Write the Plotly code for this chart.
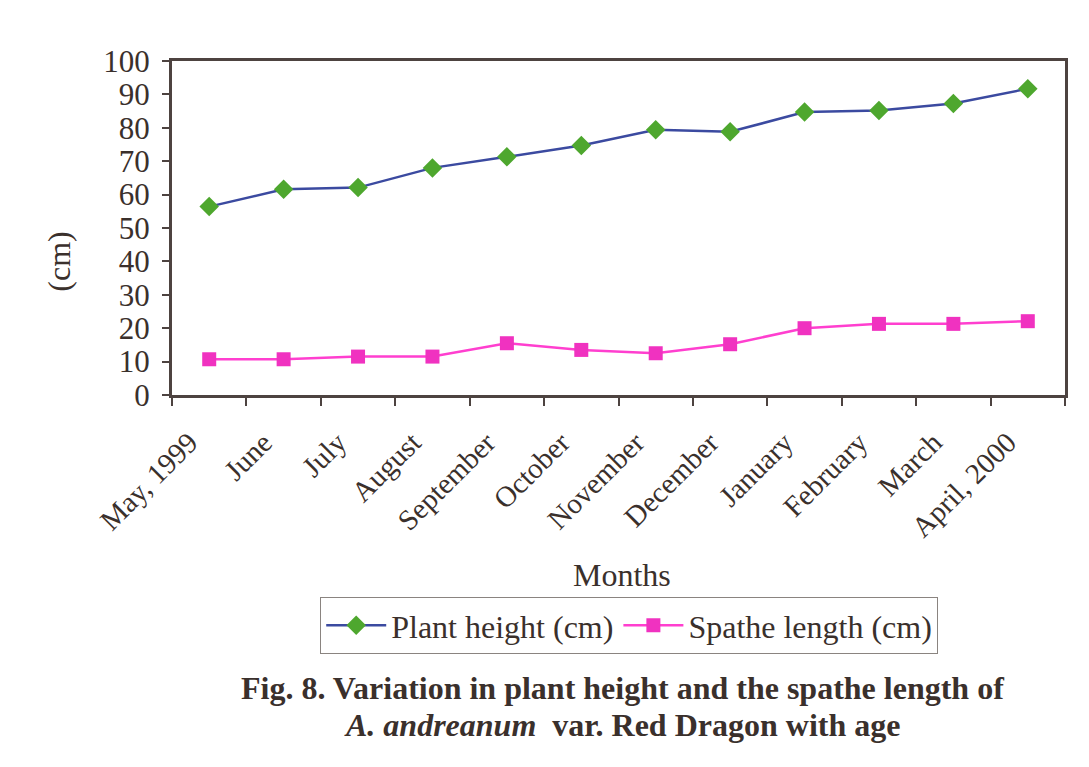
import plotly.graph_objects as go

months = ["May, 1999", "June", "July", "August", "September", "October",
          "November", "December", "January", "February", "March", "April, 2000"]
plant_height = [56.4, 61.6, 62.1, 68.0, 71.3, 74.7, 79.4, 78.8, 84.7, 85.2, 87.3, 91.7]
spathe_length = [10.7, 10.7, 11.5, 11.5, 15.5, 13.5, 12.5, 15.2, 20.0, 21.3, 21.3, 22.1]

FONT = "Liberation Serif, Times New Roman, serif"
FRAME = "#4d4340"
TXT = "#3a302c"

fig = go.Figure()
fig.add_trace(go.Scatter(
    x=months, y=plant_height, name="Plant height (cm)", mode="lines+markers",
    line=dict(color="#3b4aa0", width=2.5),
    marker=dict(symbol="diamond", size=15, color="#4ea72e"),
))
fig.add_trace(go.Scatter(
    x=months, y=spathe_length, name="Spathe length (cm)", mode="lines+markers",
    line=dict(color="#ff3fcf", width=2.5),
    marker=dict(symbol="square", size=14, color="#f032c0"),
))

fig.update_layout(
    width=1089, height=767,
    margin=dict(l=172, r=24, t=61, b=372),
    paper_bgcolor="white", plot_bgcolor="white",
    font=dict(family=FONT, color=TXT),
    showlegend=True,
    legend=dict(
        orientation="h", x=0.512, xanchor="center", y=-0.605, yanchor="top",
        bordercolor="#8a8480", borderwidth=1, bgcolor="white",
        font=dict(family=FONT, size=32, color=TXT),
        itemwidth=60, tracegroupgap=0,
    ),
    annotations=[
        dict(text="Months", x=0.504, y=-0.539, xref="paper", yref="paper",
             xanchor="center", yanchor="middle",
             showarrow=False, font=dict(family=FONT, size=32, color=TXT)),
        dict(text="(cm)", x=-0.127, y=0.398, xref="paper", yref="paper",
             xanchor="center", yanchor="middle",
             showarrow=False, textangle=-90, font=dict(family=FONT, size=32, color=TXT)),
        dict(text="<b>Fig. 8. Variation in plant height and the spathe length of</b>",
             x=0.504, y=-0.877, xref="paper", yref="paper", showarrow=False,
             xanchor="center", yanchor="middle",
             font=dict(family=FONT, size=32, color=TXT)),
        dict(text="<b><i>A. andreanum</i>  var. Red Dragon with age</b>",
             x=0.504, y=-0.988, xref="paper", yref="paper", showarrow=False,
             xanchor="center", yanchor="middle",
             font=dict(family=FONT, size=32, color=TXT)),
    ],
)

fig.update_xaxes(
    type="category", range=[-0.5, 11.5], tickangle=-45,
    tickson="boundaries", ticks="outside", ticklen=8, tickcolor=FRAME, tickwidth=1.5,
    showline=True, linecolor=FRAME, linewidth=3, mirror=True,
    showgrid=False, zeroline=False,
    ticklabelstandoff=16, ticklabelshift=-20,
    tickfont=dict(family=FONT, size=29, color=TXT),
)
fig.update_yaxes(
    range=[0, 100], dtick=10, ticks="outside", ticklen=7, tickcolor=FRAME, tickwidth=1.5,
    showline=True, linecolor=FRAME, linewidth=3, mirror=True,
    showgrid=False, zeroline=False,
    ticklabelstandoff=6,
    tickfont=dict(family=FONT, size=31, color=TXT),
)

fig.write_html("out.html")
